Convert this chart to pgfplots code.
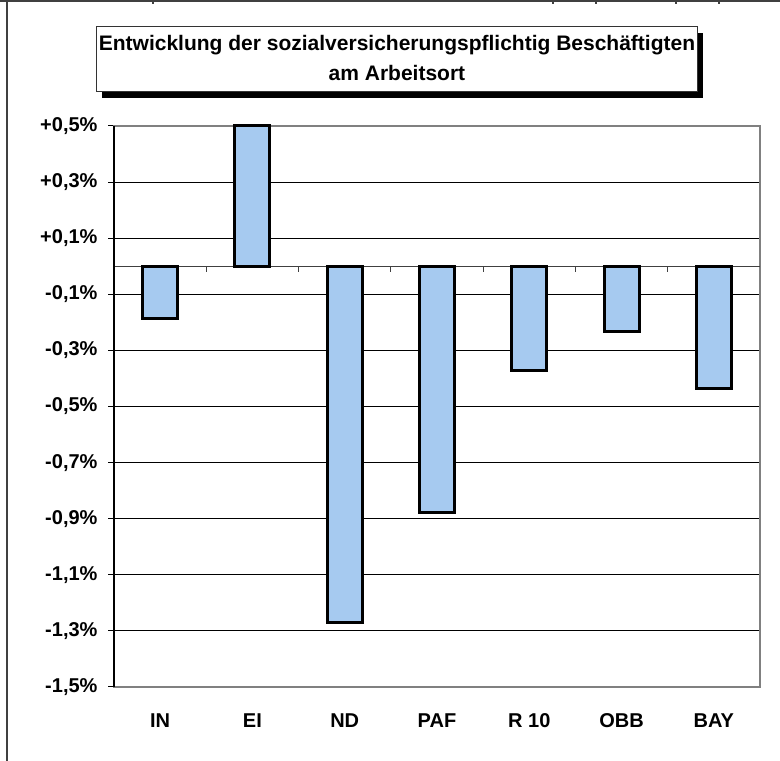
\documentclass[border=0pt]{standalone}
\usepackage{fontspec}
\setmainfont{Liberation Sans}
\usepackage{pgfplots}
\pgfplotsset{compat=1.18}
\definecolor{barblue}{RGB}{166,202,240}
\definecolor{framegray}{RGB}{128,128,128}
\definecolor{edge}{RGB}{64,64,64}
\begin{document}
\begin{tikzpicture}
\path[use as bounding box] (0pt,0pt) rectangle (780pt,761pt);
% outer frame (cropped sheet)
\draw[edge,line width=2pt] (0pt,760pt) -- (780pt,760pt);
\draw[edge,line width=2pt] (7pt,0pt) -- (7pt,761pt);
\foreach \t in {153,553,596,676,719} \draw[edge,line width=1.5pt] (\t pt,761pt) -- (\t pt,757pt);
% title box with shadow
\fill[black] (102pt,663pt) rectangle (703pt,728pt);
\draw[fill=white,draw=black!80,line width=1pt] (96pt,669pt) rectangle (697pt,734pt);
\node[font=\fontsize{21}{25}\selectfont\bfseries] at (397pt,716pt) {Entwicklung der sozialversicherungspflichtig Beschäftigten};
\node[font=\fontsize{21}{25}\selectfont\bfseries] at (397pt,688pt) {am Arbeitsort};
\begin{axis}[at={(114pt,74pt)},anchor=south west,scale only axis,
  width=646pt,height=561pt,
  xmin=-0.5,xmax=6.5,ymin=-1.5,ymax=0.5,clip=false,
  axis line style={framegray,line width=2.5pt},
  xtick={0,1,2,3,4,5,6},
  xticklabels={IN,EI,ND,PAF,R 10,OBB,BAY},
  xtick style={draw=none},
  xticklabel style={anchor=north,yshift=-17pt},
  ytick={-1.5,-1.3,-1.1,-0.9,-0.7,-0.5,-0.3,-0.1,0.1,0.3,0.5},
  yticklabels={{-1,5\%},{-1,3\%},{-1,1\%},{-0,9\%},{-0,7\%},{-0,5\%},{-0,3\%},{-0,1\%},{+0,1\%},{+0,3\%},{+0,5\%}},
  ytick pos=left,tick align=outside,major tick length=6pt,
  ytick style={black,line width=1pt},
  yticklabel style={anchor=east,xshift=-7pt},
  ticklabel style={font=\fontsize{20}{24}\selectfont\bfseries},
  ymajorgrids,major grid style={black,line width=0.9pt},
]
\draw[edge,line width=1.3pt] (axis cs:-0.5,0) -- (axis cs:6.5,0);
\pgfplotsinvokeforeach{0.5,1.5,2.5,3.5,4.5,5.5}{
  \draw[edge,line width=1pt] (axis cs:#1,0) -- ++(0pt,-6pt);
}
\addplot[ybar,bar width=35pt,fill=barblue,draw=black,line width=3pt]
coordinates {(0,-0.186) (1,0.5) (2,-1.27) (3,-0.879) (4,-0.371) (5,-0.231) (6,-0.437)};
\draw[black,line width=2.5pt] (rel axis cs:0,0) -- (rel axis cs:0,1);
\end{axis}
\end{tikzpicture}
\end{document}
